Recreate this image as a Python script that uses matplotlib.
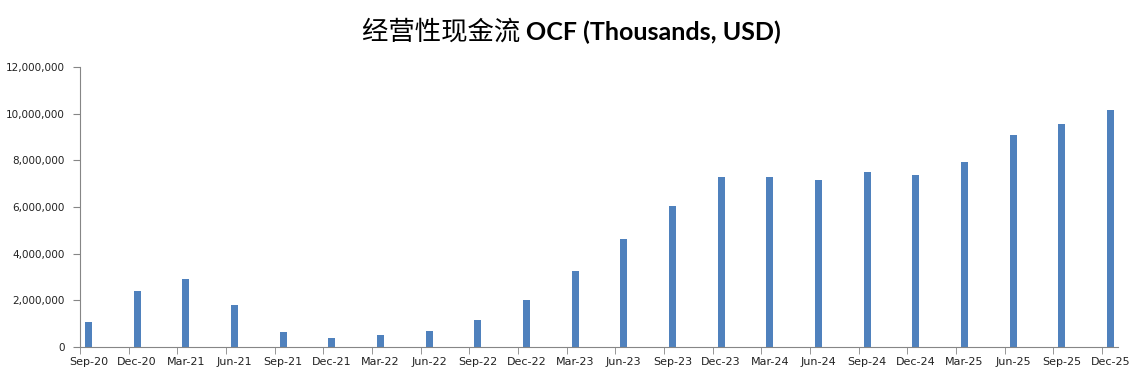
import matplotlib.pyplot as plt
import numpy as np
from matplotlib.ticker import FuncFormatter, FixedLocator

# Data
quarters = ['Sep-20', 'Dec-20', 'Mar-21', 'Jun-21', 'Sep-21', 'Dec-21', 'Mar-22', 'Jun-22',
            'Sep-22', 'Dec-22', 'Mar-23', 'Jun-23', 'Sep-23', 'Dec-23', 'Mar-24', 'Jun-24',
            'Sep-24', 'Dec-24', 'Mar-25', 'Jun-25', 'Sep-25', 'Dec-25']
ocf = [1080000, 2420000, 2920000, 1810000, 650000, 400000, 530000, 700000,
       1170000, 2020000, 3270000, 4630000, 6050000, 7290000, 7290000, 7160000,
       7500000, 7370000, 7930000, 9080000, 9550000, 10150000]
title_cn = '经营性现金流 '
title_en = 'OCF (Thousands, USD)'

x = np.arange(len(quarters))
axis_grey = '#868686'

fig = plt.figure(figsize=(11.43, 3.83), dpi=100)
ax = fig.add_axes([80 / 1143, 1 - 347 / 383, (1118 - 80) / 1143, (347 - 67) / 383])

ax.bar(x, ocf, width=0.14, color='#4F81BD')

ax.set_ylim(0, 12000000)
ax.set_yticks(np.arange(0, 12000001, 2000000))
ax.yaxis.set_major_formatter(FuncFormatter(lambda v, p: f'{int(v):,}'))

# category ticks sit just left of each bar, like the Excel date axis
offset = 0.175
ax.set_xlim(-offset, len(quarters) - 1 - offset + 16 / 48.67)
ax.set_xticks(x)
ax.set_xticklabels(quarters)
ax.tick_params(axis='x', which='major', length=0, pad=7, labelsize=8)
ax.xaxis.set_minor_locator(FixedLocator(x - offset))
ax.tick_params(axis='x', which='minor', length=5, color=axis_grey, direction='out')
ax.tick_params(axis='y', length=5, color=axis_grey, direction='out', pad=6, labelsize=7.5)
ax.tick_params(labelcolor='#222222')

for s in ['top', 'right']:
    ax.spines[s].set_visible(False)
for s in ['left', 'bottom']:
    ax.spines[s].set_color(axis_grey)

# title: regular Chinese part + bold Latin part, centred together
t1 = fig.text(0, 1 - 40 / 383, title_cn, fontsize=19, family=['Noto Sans CJK SC'],
              va='baseline', ha='left')
t2 = fig.text(0, 1 - 40 / 383, title_en, fontsize=18, fontweight='bold',
              family=['Lato', 'DejaVu Sans'], va='baseline', ha='left')
fig.canvas.draw()
r = fig.canvas.get_renderer()
w1 = t1.get_window_extent(r).width
w2 = t2.get_window_extent(r).width
start = (1143 - w1 - w2) / 2
t1.set_x(start / 1143)
t2.set_x((start + w1) / 1143)

fig.savefig('out.png', dpi=100)
